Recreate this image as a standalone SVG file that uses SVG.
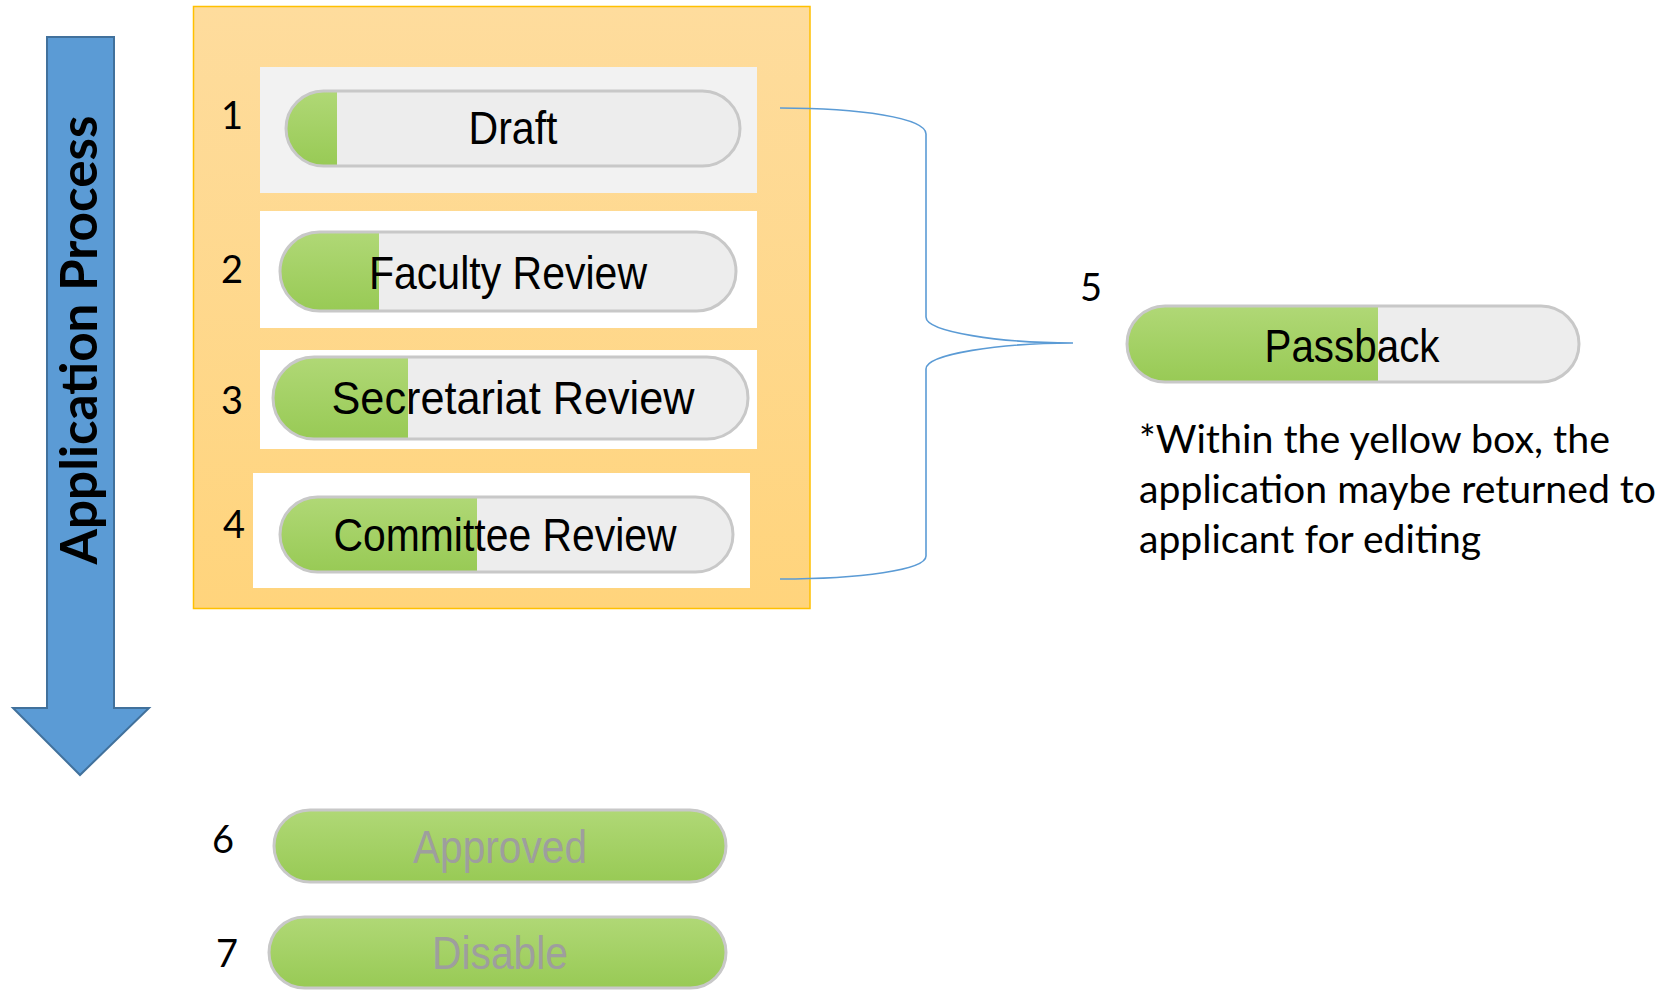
<svg xmlns="http://www.w3.org/2000/svg" width="1676" height="990" viewBox="0 0 1676 990">
<defs>
<linearGradient id="yel" x1="0" y1="0" x2="0" y2="1"><stop offset="0" stop-color="#FEDC9D"/><stop offset="1" stop-color="#FFD47C"/></linearGradient>
<linearGradient id="grn" x1="0" y1="0" x2="0" y2="1"><stop offset="0" stop-color="#B0D876"/><stop offset="1" stop-color="#98CA55"/></linearGradient>
<clipPath id="c1"><rect x="286" y="91" width="454" height="75" rx="37.5"/></clipPath>
<clipPath id="c2"><rect x="280" y="232" width="456" height="79" rx="39.5"/></clipPath>
<clipPath id="c3"><rect x="273" y="357" width="475" height="82" rx="41"/></clipPath>
<clipPath id="c4"><rect x="280" y="497" width="453" height="75" rx="37.5"/></clipPath>
<clipPath id="c5"><rect x="1127" y="306" width="452" height="76" rx="38"/></clipPath>
</defs>
<style>
.bar{fill:none;stroke:#C8C8C8;stroke-width:3}
.gray{fill:#EDEDED}
.g{fill:url(#grn)}
.lbl{font-family:"Liberation Sans",Arial,sans-serif;font-size:47px;fill:#000;text-anchor:middle}
.dis{fill:#9E9E9E}
.num{font-family:Lato,"Open Sans",sans-serif;font-size:38px;fill:#000;text-anchor:middle}
.note{font-family:Lato,"Open Sans",sans-serif;font-size:39px;fill:#000}
.brace{fill:none;stroke:#5B9BD5;stroke-width:1.6}
</style>

<g id="process-arrow">
<path d="M47,37 L114,37 L114,708 L149,708 L80,775 L13,708 L47,708 Z" fill="#5B9BD5" stroke="#41719C" stroke-width="2"/>
<text transform="translate(97,340) rotate(-90)" text-anchor="middle" font-family="Lato,'Open Sans',sans-serif" font-weight="bold" font-size="51" textLength="449" lengthAdjust="spacingAndGlyphs" fill="#000">Application Process</text>
</g>

<g id="yellow-box">
<rect x="193.5" y="6.5" width="616.5" height="602" fill="url(#yel)" stroke="#FFC000" stroke-width="1.5"/>
</g>

<g id="step1">
<rect x="260" y="67" width="497" height="126" fill="#F2F2F2"/>
<g clip-path="url(#c1)"><rect x="286" y="91" width="454" height="75" class="gray"/><rect x="286" y="91" width="51" height="75" class="g"/></g>
<rect x="286" y="91" width="454" height="75" rx="37.5" class="bar"/>
<text x="513" y="144" class="lbl" textLength="89" lengthAdjust="spacingAndGlyphs">Draft</text>
<text x="232" y="129" class="num">1</text>
</g>

<g id="step2">
<rect x="260" y="211" width="497" height="117" fill="#FFFFFF"/>
<g clip-path="url(#c2)"><rect x="280" y="232" width="456" height="79" class="gray"/><rect x="280" y="232" width="99" height="79" class="g"/></g>
<rect x="280" y="232" width="456" height="79" rx="39.5" class="bar"/>
<text x="508" y="289" class="lbl" textLength="278" lengthAdjust="spacingAndGlyphs">Faculty Review</text>
<text x="232" y="283" class="num">2</text>
</g>

<g id="step3">
<rect x="260" y="350" width="497" height="99" fill="#FFFFFF"/>
<g clip-path="url(#c3)"><rect x="273" y="357" width="475" height="82" class="gray"/><rect x="273" y="357" width="135" height="82" class="g"/></g>
<rect x="273" y="357" width="475" height="82" rx="41" class="bar"/>
<text x="513" y="414" class="lbl" textLength="363" lengthAdjust="spacingAndGlyphs">Secretariat Review</text>
<text x="232" y="414" class="num">3</text>
</g>

<g id="step4">
<rect x="253" y="473" width="497" height="115" fill="#FFFFFF"/>
<g clip-path="url(#c4)"><rect x="280" y="497" width="453" height="75" class="gray"/><rect x="280" y="497" width="197" height="75" class="g"/></g>
<rect x="280" y="497" width="453" height="75" rx="37.5" class="bar"/>
<text x="505" y="551" class="lbl" textLength="343" lengthAdjust="spacingAndGlyphs">Committee Review</text>
<text x="234" y="538" class="num">4</text>
</g>

<g id="step5">
<g clip-path="url(#c5)"><rect x="1127" y="306" width="452" height="76" class="gray"/><rect x="1127" y="306" width="251" height="76" class="g"/></g>
<rect x="1127" y="306" width="452" height="76" rx="38" class="bar"/>
<text x="1352" y="362" class="lbl" textLength="175" lengthAdjust="spacingAndGlyphs">Passback</text>
<text x="1091" y="301" class="num">5</text>
</g>

<g id="note">
<text x="1139" y="453" class="note" textLength="471" lengthAdjust="spacingAndGlyphs">*Within the yellow box, the</text>
<text x="1139" y="503" class="note" textLength="517" lengthAdjust="spacingAndGlyphs">application maybe returned to</text>
<text x="1139" y="553" class="note" textLength="342" lengthAdjust="spacingAndGlyphs">applicant for editing</text>
</g>

<g id="step6">
<rect x="274" y="810" width="452" height="72" rx="36" class="g" stroke="#C8C8C8" stroke-width="3"/>
<text x="500" y="863" class="lbl dis" textLength="174" lengthAdjust="spacingAndGlyphs">Approved</text>
<text x="223" y="853" class="num">6</text>
</g>

<g id="step7">
<rect x="269" y="917" width="457" height="71" rx="35.5" class="g" stroke="#C8C8C8" stroke-width="3"/>
<text x="500" y="969" class="lbl dis" textLength="136" lengthAdjust="spacingAndGlyphs">Disable</text>
<text x="227" y="967" class="num">7</text>
</g>

<g id="connectors">
<path class="brace" d="M780,108 C860,108 926,118 926,134 L926,317 C926,332 1000,343 1073,343 C1000,343 926,354 926,369 L926,556 C926,570 860,579 780,579"/>
</g>
</svg>
